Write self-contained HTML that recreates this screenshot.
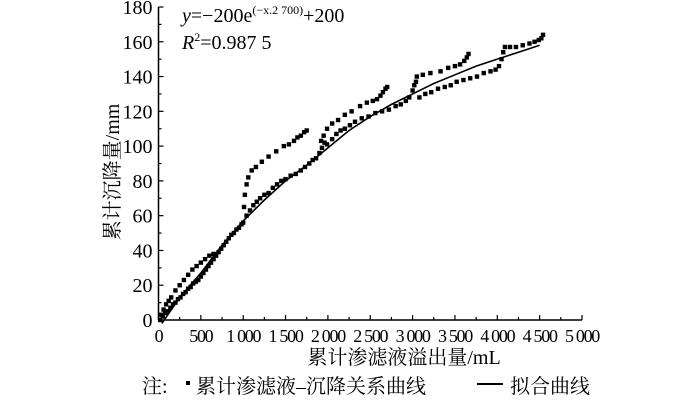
<!DOCTYPE html>
<html><head><meta charset="utf-8"><style>
html,body{margin:0;padding:0;background:#fff;}
svg{display:block;font-family:"Liberation Serif","Noto Serif CJK SC",serif;}
</style></head><body>
<svg id="chart" width="700" height="400" viewBox="0 0 700 400" xmlns="http://www.w3.org/2000/svg">
<g id="axes"></g>
<g id="fit"></g>
<g id="pts"></g>
<text x="182" y="22" font-size="20"><tspan font-style="italic">y</tspan>=−200e<tspan font-size="12" dy="-8">(−x.2 700)</tspan><tspan dy="8">+200</tspan></text>
<text x="182" y="49" font-size="20"><tspan font-style="italic">R</tspan><tspan font-size="12" dy="-8">2</tspan><tspan dy="8">=0.987 5</tspan></text>
<text transform="translate(119,172) rotate(-90)" text-anchor="middle" font-size="20">累计沉降量/mm</text>
<text x="404" y="364" text-anchor="middle" font-size="20">累计渗滤液溢出量/mL</text>
<g>
<text x="142" y="393" font-size="20">注:</text>
<rect x="186" y="381" width="4" height="4" fill="#000"></rect>
<text x="196" y="393" font-size="20">累计渗滤液–沉降关系曲线</text>
<line x1="477" y1="384" x2="503" y2="384" stroke="#000" stroke-width="2"></line>
<text x="510" y="393" font-size="20">拟合曲线</text>
</g>
</svg>
<script>
const xTicks=[0,500,1000,1500,2000,2500,3000,3500,4000,4500,5000];
const xTickLabels=["0","500","1 000","1 500","2 000","2 500","3 000","3 500","4 000","4 500","5 000"];
const yTicks=[0,20,40,60,80,100,120,140,160,180];
const dataX=[20,50,80,110,140,170,200,230,260,290,320,350,380,410,440,470,500,530,560,590,620,650,680,710,740,770,800,830,860,890,920,950,980,1000,
30,60,90,120,150,200,250,300,350,400,450,500,550,600,650,
1040,1080,1120,1160,1200,1250,1300,1350,1400,1450,1500,1560,1620,1680,1730,1780,1820,1860,1900,1930,1960,1990,2050,2100,2150,2200,2260,2320,2400,2480,2560,2640,2720,2800,2860,2920,2960,3000,3020,3040,
3080,3150,3220,3300,3380,3450,3520,3600,3680,3760,3840,3920,3980,4020,4050,4070,4090,4150,4220,4300,4380,4440,4490,4520,4540,
1010,1020,1040,1060,1100,1150,1220,1300,1390,1480,1540,1600,1640,1680,1720,1750,
1920,1950,1990,2050,2120,2200,2280,2380,2460,2530,2580,2620,2650,2680,2700,
3050,3120,3210,3330,3420,3500,3560,3610,3640,3660];
const dataY=[0,2,4,5,7,9,10,12,13,15,16,18,19,21,22,23,25,27,29,31,33,35,37,39,41,43,45,47,49,50,52,53,55,56,
3,6,9,11,13,17,20,23,26,29,31,33,35,37,38,
60,63,66,68,70,72,73,76,78,80,81,83,84,86,88,90,92,93,96,99,102,101,104,107,109,110,112,114,116,117,119,120,121,123,124,126,128,132,135,137,
128,130,131,133,134,135,137,138,139,140,142,143,144,146,150,154,157,157,157,158,159,160,161,162,164,
65,72,78,82,86,88,91,94,97,100,101,103,105,106,108,109,
103,106,110,113,115,118,120,123,125,126,127,129,131,133,134,
140,141,142,143,145,146,147,149,151,153];
const fitX=[40,250,500,750,1000,1250,1500,1750,2000,2250,2500,2750,3000,3250,3500,3750,4000,4250,4500];
const fitY=[-2,13,27,43,57,69,80,89,99,109,117,124,130,136,141,146,150,154,158];

const NS="http://www.w3.org/2000/svg";
const X0=158.5,X1=582,Y0=320,Y1=7;
function sx(v){return X0+(v-0)/(5000-0)*(X1-X0);}
function sy(v){return Y0-(v-0)/(180-0)*(Y0-Y1);}
function mk(tag,attrs,parent){const e=document.createElementNS(NS,tag);for(const k in attrs)e.setAttribute(k,attrs[k]);parent.appendChild(e);return e;}
const axes=document.getElementById('axes');
let e;
e=mk('line',{x1:X0,y1:Y0,x2:X1,y2:Y0,stroke:'#000','stroke-width':1.5},axes);


e=mk('line',{x1:X0,y1:Y0,x2:X0,y2:Y1,stroke:'#000','stroke-width':1.5},axes);


for(let v=0;v<=5000;v+=250){const major=v%500===0;
 e=mk('line',{x1:sx(v),y1:Y0,x2:sx(v),y2:Y0-(major?5:3),stroke:'#000','stroke-width':1.2},axes);
 
 }
for(let v=0;v<=180;v+=10){const major=v%20===0;
 e=mk('line',{x1:X0,y1:sy(v),x2:X0+(major?5:3),y2:sy(v),stroke:'#000','stroke-width':1.2},axes);
 
 }
xTicks.forEach((v,i)=>{e=mk('text',{x:sx(v),y:Y0+22,'text-anchor':'middle','font-size':18,'letter-spacing':'-1.3'},axes);e.textContent=xTickLabels[i];
 
 });
yTicks.forEach(v=>{e=mk('text',{x:X0-6,y:sy(v)+7,'text-anchor':'end','font-size':20},axes);e.textContent=String(v);
 
 });
const fit=document.getElementById('fit');
e=mk('polyline',{points:fitX.map((x,i)=>sx(x)+','+sy(fitY[i])).join(' '),fill:'none',stroke:'#000','stroke-width':1.6},fit);


const pts=document.getElementById('pts');
dataX.forEach((x,i)=>{e=mk('rect',{x:sx(x)-2.2,y:sy(dataY[i])-2.2,width:4.4,height:4.4,fill:'#000'},pts);
 
 });
</script>
</body></html>
